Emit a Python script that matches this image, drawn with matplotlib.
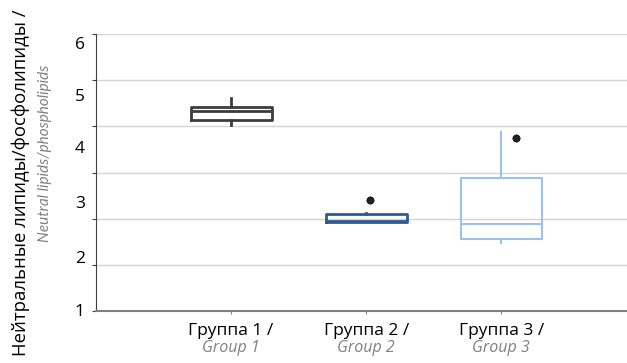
import matplotlib
matplotlib.use('Agg')
import matplotlib.pyplot as plt

# box statistics, in gridline units (bottom line = 0, top line = 6)
groups = ['Группа 1 /', 'Группа 2 /', 'Группа 3 /']
groups_en = ['Group 1', 'Group 2', 'Group 3']
whislo = [4.03, 1.93, 1.47]
q1 = [4.14, 1.93, 1.57]
med = [4.34, 1.95, 1.88]
q3 = [4.41, 2.10, 2.89]
whishi = [4.61, 2.13, 3.87]
outliers = [[], [2.40], [3.74]]
outlier_dx = [0.0, 0.03, 0.11]

colors = ['#3c3c3c', '#2e5a92', '#9cc2ea']
widths = [2.0, 2.0, 1.5]

# axis labels as printed (they are not aligned with the gridlines)
ylabels = ['1', '2', '3', '4', '5', '6']
ylabel_pos = [0.02, 1.17, 2.36, 3.55, 4.68, 5.80]

plt.rcParams['font.family'] = ['Open Sans', 'DejaVu Sans']

fig = plt.figure(figsize=(6.27, 3.63), dpi=100)
ax = fig.add_axes([96 / 627, 52 / 363, 1 - 96 / 627, 277 / 363])

pos = [1, 2, 3]
for i in range(3):
    st = [dict(whislo=whislo[i], q1=q1[i], med=med[i], q3=q3[i],
               whishi=whishi[i], fliers=[])]
    lp = dict(color=colors[i], linewidth=widths[i])
    ax.bxp(st, positions=[pos[i]], widths=0.6, showcaps=False,
           boxprops=lp, medianprops=lp, whiskerprops=lp,
           manage_ticks=False)
    if outliers[i]:
        ax.plot([pos[i] + outlier_dx[i]] * len(outliers[i]), outliers[i],
                linestyle='none', marker=(8, 2, 0), markersize=5.5,
                markeredgewidth=1.5, color='#222222')

ax.set_xlim(0, 3.93)
ax.set_ylim(0, 6)

ax.set_yticks(range(7))
ax.set_yticklabels([])
ax.set_yticks(ylabel_pos, minor=True)
ax.set_yticklabels(ylabels, minor=True, fontsize=12.5)
ax.tick_params(axis='y', which='major', length=3, width=0.8, color='#404040')
ax.tick_params(axis='y', which='minor', length=0, pad=8)
ax.grid(axis='y', which='major', color='#d4d4d4', linewidth=1)
ax.set_axisbelow(True)

ax.set_xticks(pos)
ax.set_xticklabels([])
ax.tick_params(axis='x', length=2, width=0.8, color='#808080')
for p, ru, en in zip(pos, groups, groups_en):
    ax.text(p, -0.27, ru, ha='center', va='top', fontsize=12.5)
    ax.text(p, -0.63, en, ha='center', va='top', fontsize=11.5,
            style='italic', color='#808080')

for s in ['top', 'right']:
    ax.spines[s].set_visible(False)
ax.spines['left'].set_color('#404040')
ax.spines['left'].set_linewidth(0.8)
ax.spines['bottom'].set_color('#808080')
ax.spines['bottom'].set_linewidth(1.5)

fig.text(21 / 627, 1 - 10 / 363, 'Нейтральные липиды/фосфолипиды /',
         rotation=90, ha='center', va='top', fontsize=13.3)
fig.text(45 / 627, 1 - 65 / 363, 'Neutral lipids/phospholipids',
         rotation=90, ha='center', va='top', fontsize=11,
         family=['Lato', 'Open Sans'], style='italic', color='#808080')

fig.savefig('out.png', dpi=100)
